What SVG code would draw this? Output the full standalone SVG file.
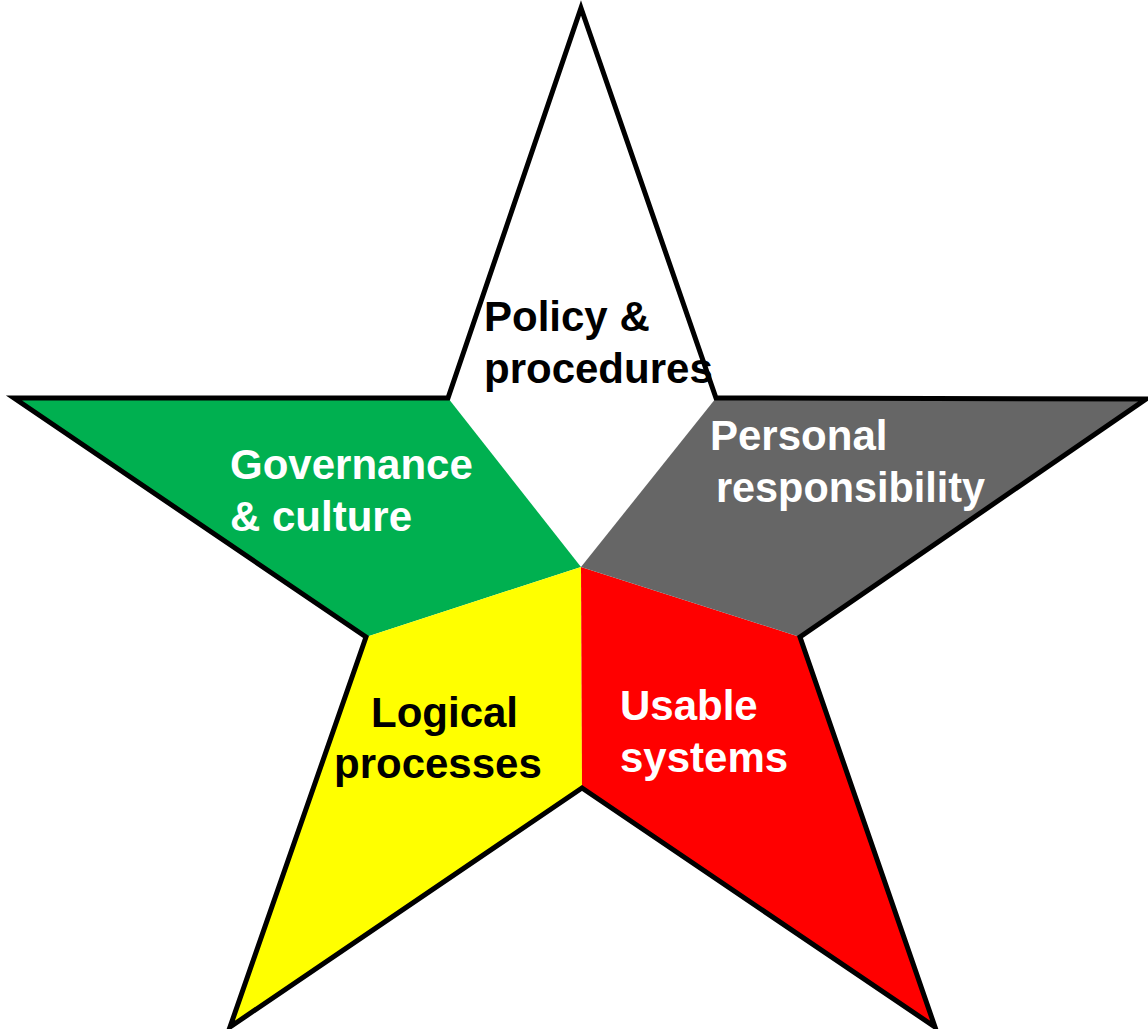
<svg xmlns="http://www.w3.org/2000/svg" width="1148" height="1029" viewBox="0 0 1148 1029">
  <style>
    .seg { stroke: none; }
    .outline { fill: none; stroke: #000000; stroke-width: 5; stroke-linejoin: miter; stroke-miterlimit: 20; }
    .lbl { font-family: "Liberation Sans", Arial, sans-serif; font-weight: bold; font-size: 42px; }
    .dark { fill: #000000; }
    .light { fill: #ffffff; }
  </style>
  <rect width="1148" height="1029" fill="#ffffff"/>

  <!-- five sectors of the star, meeting at the centre point -->
  <g id="sector-policy">
    <polygon class="seg" fill="#ffffff" points="581,567 448,398 581,8 716,398"/>
  </g>
  <g id="sector-governance">
    <polygon class="seg" fill="#00B050" points="581,567 448,398 14,398 366,637"/>
  </g>
  <g id="sector-logical">
    <polygon class="seg" fill="#FFFF00" points="581,567 366,637 230,1027 582,788"/>
  </g>
  <g id="sector-usable">
    <polygon class="seg" fill="#FF0000" points="581,567 582,788 935,1027 800,637"/>
  </g>
  <g id="sector-personal">
    <polygon class="seg" fill="#666666" points="581,567 800,637 1146,399 716,398"/>
  </g>

  <!-- star outline -->
  <g id="star-outline">
    <path class="outline" d="M581,8 L716,398 L1146,399 L800,637 L935,1027 L582,788 L230,1027 L366,637 L14,398 L448,398 Z"/>
  </g>

  <!-- labels -->
  <g id="label-policy">
    <text class="lbl dark" x="484" y="331">Policy &amp;</text>
    <text class="lbl dark" x="484" y="383">procedures</text>
  </g>
  <g id="label-governance">
    <text class="lbl light" x="230" y="479">Governance</text>
    <text class="lbl light" x="230" y="531">&amp; culture</text>
  </g>
  <g id="label-personal">
    <text class="lbl light" x="710" y="450">Personal</text>
    <text class="lbl light" x="716" y="502" textLength="269" lengthAdjust="spacingAndGlyphs">responsibility</text>
  </g>
  <g id="label-logical">
    <text class="lbl dark" x="371" y="727">Logical</text>
    <text class="lbl dark" x="334" y="778">processes</text>
  </g>
  <g id="label-usable">
    <text class="lbl light" x="620" y="720">Usable</text>
    <text class="lbl light" x="620" y="772">systems</text>
  </g>
</svg>
